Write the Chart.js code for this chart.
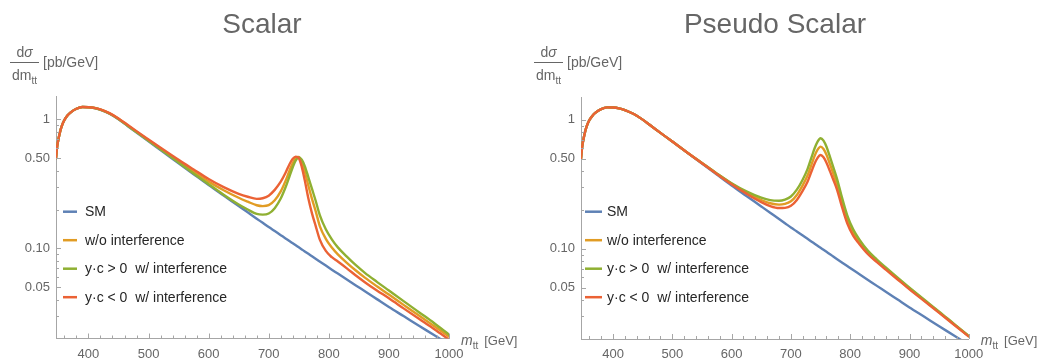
<!DOCTYPE html>
<html><head><meta charset="utf-8">
<script src="https://cdn.jsdelivr.net/npm/chart.js@4"></script>
<style>
html,body{margin:0;padding:0;background:#fff;}
#wrap{position:relative;width:1046px;height:358px;overflow:hidden;}
.panel{position:absolute;top:0;width:523px;height:358px;}
</style></head><body>
<div id="wrap">
<div class="panel" style="left:0"><canvas id="c1" width="523" height="358"></canvas></div>
<div class="panel" style="left:523px"><canvas id="c2" width="523" height="358"></canvas></div>
</div>
<script>
// ---------- data ----------
const massGeV = [346,348,350,353,356,360,365,370,380,390,400,410,420,435,450,465,480,500,525,550,575,600,625,650,665,680,690,700,710,720,728,735,740,745,750,755,760,766,772,778,785,795,805,815,830,845,860,880,900,925,950,975,1000];

const smXsec = [0.50,0.62,0.70,0.81,0.90,0.99,1.07,1.13,1.21,1.247,
  1.243,1.224,1.188,1.107,1.002,0.890,0.791,0.677,0.556,0.4575,
  0.376,0.3093,0.2565,0.2128,0.1902,0.1699,0.1577,0.1463,0.1361,0.1266,
  0.1195,0.1135,0.1095,0.1056,0.1018,0.0982,0.0947,0.0907,0.0868,0.0831,
  0.0790,0.0735,0.0684,0.0638,0.0574,0.0516,0.0465,0.0404,0.0351,0.0297,
  0.0251,0.0213,0.0180];

// Scalar panel
const scalarNoInt = [0.50,0.62,0.70,0.81,0.90,0.99,1.07,1.13,1.21,1.247,
  1.243,1.226,1.192,1.113,1.010,0.899,0.801,0.688,0.568,0.4705,
  0.392,0.3293,0.2825,0.2468,0.2302,0.2159,0.2127,0.2163,0.2361,0.2766,
  0.3335,0.4055,0.4595,0.5026,0.5118,0.4682,0.3947,0.3057,0.2418,0.1951,
  0.149,0.1185,0.1014,0.0898,0.0773,0.0673,0.0593,0.0508,0.0438,0.0363,
  0.0301,0.0250,0.0207];
const scalarPos = [0.50,0.62,0.70,0.81,0.90,0.99,1.07,1.13,1.21,1.247,
  1.243,1.226,1.192,1.112,1.008,0.896,0.798,0.684,0.563,0.4635,
  0.381,0.3143,0.2605,0.2188,0.2002,0.1849,0.1827,0.1863,0.2051,0.2436,
  0.2975,0.3675,0.4255,0.4806,0.5068,0.4882,0.4347,0.3557,0.2888,0.2351,
  0.181,0.1405,0.1174,0.1018,0.0863,0.0740,0.0646,0.0550,0.0471,0.0388,
  0.0320,0.0264,0.0215];
const scalarNeg = [0.50,0.62,0.70,0.81,0.90,0.99,1.07,1.13,1.21,1.247,
  1.243,1.228,1.196,1.119,1.018,0.908,0.811,0.699,0.581,0.4855,
  0.409,0.3453,0.2985,0.2648,0.2512,0.2419,0.2447,0.2563,0.2841,0.3286,
  0.3855,0.4535,0.4955,0.5146,0.5018,0.4282,0.3367,0.2437,0.1868,0.1501,
  0.117,0.0955,0.0854,0.079,0.0700,0.0616,0.0547,0.0472,0.0410,0.0341,
  0.0284,0.0237,0.0196];

// Pseudo scalar panel
const pseudoNoInt = [0.50,0.62,0.70,0.81,0.90,0.99,1.07,1.13,1.21,1.247,
  1.243,1.224,1.188,1.107,1.002,0.890,0.791,0.678,0.558,0.4615,
  0.382,0.3193,0.2725,0.2388,0.2252,0.2199,0.2227,0.2333,0.2611,0.3116,
  0.3695,0.4535,0.5245,0.5856,0.6188,0.5932,0.5347,0.4507,0.3768,0.3131,
  0.239,0.1685,0.1334,0.1138,0.0934,0.0806,0.0702,0.0587,0.0492,0.0398,
  0.0322,0.0260,0.0210];
const pseudoPos = [0.50,0.62,0.70,0.81,0.90,0.99,1.07,1.13,1.21,1.247,
  1.243,1.224,1.188,1.107,1.002,0.890,0.791,0.678,0.558,0.4625,
  0.384,0.3223,0.2785,0.2488,0.2382,0.2359,0.2407,0.2543,0.2871,0.3446,
  0.4145,0.5155,0.6015,0.6776,0.7188,0.6882,0.6167,0.5127,0.4218,0.3451,
  0.261,0.1815,0.1414,0.1188,0.0964,0.0826,0.0717,0.0597,0.0500,0.0403,
  0.0326,0.0262,0.0211];
const pseudoNeg = [0.50,0.62,0.70,0.81,0.90,0.99,1.07,1.13,1.21,1.247,
  1.243,1.224,1.188,1.107,1.002,0.890,0.791,0.678,0.558,0.4605,
  0.380,0.3163,0.2675,0.2298,0.2142,0.2069,0.2077,0.2153,0.2391,0.2826,
  0.3305,0.4005,0.4585,0.5066,0.5328,0.5112,0.4647,0.3977,0.3378,0.2851,
  0.22,0.1575,0.1264,0.1093,0.0907,0.0788,0.0689,0.0578,0.0485,0.0393,
  0.0319,0.0258,0.0209];

const seriesLabels = ['SM', 'w/o interference', 'y\u00b7c > 0  w/ interference', 'y\u00b7c < 0  w/ interference'];
const seriesColors = ['#5e81b5', '#e19c24', '#8fb032', '#eb6235'];
const panelTitles = ['Scalar', 'Pseudo Scalar'];

const xMajorTicks = [400, 500, 600, 700, 800, 900, 1000];
const xMinorTicks = [360,380,420,440,460,480,520,540,560,580,620,640,660,680,720,740,760,780,820,840,860,880,920,940,960,980];
const yMajorTicks = [0.05, 0.1, 0.5, 1];
const yTickText   = ['0.05', '0.10', '0.50', '1'];
const yMinorTicks = [0.03, 0.04, 0.06, 0.07, 0.08, 0.09, 0.2, 0.3, 0.4, 0.6, 0.7, 0.8, 0.9];

// ---------- drawing ----------
const FONT = '"Liberation Sans", Arial, Helvetica, sans-serif';
const GRAY_AXIS = '#a6a6a6';
const GRAY_TEXT = '#666666';

const decorPlugin = {
  id: 'decor',
  afterDraw(chart, args, o) {
    const ctx = chart.ctx, xs = chart.scales.x, ys = chart.scales.y, a = chart.chartArea;
    ctx.save();
    // inner tick marks
    ctx.strokeStyle = GRAY_AXIS; ctx.lineWidth = 1;
    ctx.beginPath();
    xMajorTicks.forEach(v => { const p = Math.round(xs.getPixelForValue(v)) + 0.5; ctx.moveTo(p, a.bottom); ctx.lineTo(p, a.bottom - 5); });
    xMinorTicks.forEach(v => { const p = Math.round(xs.getPixelForValue(v)) + 0.5; ctx.moveTo(p, a.bottom); ctx.lineTo(p, a.bottom - 3); });
    yMajorTicks.forEach(v => { const p = Math.round(ys.getPixelForValue(v)) + 0.5; ctx.moveTo(a.left, p); ctx.lineTo(a.left + 5, p); });
    yMinorTicks.forEach(v => { const p = Math.round(ys.getPixelForValue(v)) + 0.5; ctx.moveTo(a.left, p); ctx.lineTo(a.left + 3, p); });
    ctx.stroke();

    // title
    ctx.fillStyle = GRAY_TEXT;
    ctx.textAlign = 'center'; ctx.textBaseline = 'alphabetic';
    ctx.font = '28px ' + FONT;
    ctx.fillText(o.title, o.titleX, 33);

    // y label: d sigma / d m_tt [pb/GeV]
    const fx0 = o.fracX, fx1 = o.fracX + 29, fc = (fx0 + fx1) / 2;
    ctx.strokeStyle = GRAY_TEXT; ctx.lineWidth = 1;
    ctx.beginPath(); ctx.moveTo(fx0, 62.5); ctx.lineTo(fx1, 62.5); ctx.stroke();
    ctx.textAlign = 'left';
    ctx.font = '14px ' + FONT;
    const wd = ctx.measureText('d').width;
    ctx.font = 'italic 14px ' + FONT;
    const ws = ctx.measureText('\u03c3').width;
    let sx = fc - (wd + ws) / 2;
    ctx.font = '14px ' + FONT; ctx.fillText('d', sx, 57);
    ctx.font = 'italic 14px ' + FONT; ctx.fillText('\u03c3', sx + wd, 57);
    ctx.font = '14px ' + FONT;
    const wdm = ctx.measureText('dm').width;
    ctx.font = '10px ' + FONT;
    const wtt = ctx.measureText('tt').width;
    sx = fc - (wdm + wtt) / 2;
    ctx.font = '14px ' + FONT; ctx.fillText('dm', sx, 80);
    ctx.font = '10px ' + FONT; ctx.fillText('tt', sx + wdm, 84);
    ctx.font = '14px ' + FONT; ctx.fillText('[pb/GeV]', fx1 + 4, 67);

    // x label: m_tt [GeV]
    let lx = a.right + 12;
    ctx.font = 'italic 14px ' + FONT; ctx.fillText('m', lx, 345); lx += ctx.measureText('m').width;
    ctx.font = '10px ' + FONT; ctx.fillText('tt', lx, 349); lx += ctx.measureText('tt').width + 6;
    ctx.font = '13px ' + FONT; ctx.fillText('[GeV]', lx, 345);

    // legend
    const legY = [211.7, 240.2, 268.7, 297.2];
    ctx.lineWidth = 2.5; ctx.lineCap = 'butt';
    chart.data.datasets.forEach((ds, i) => {
      const y = legY[i];
      ctx.strokeStyle = ds.borderColor;
      ctx.beginPath(); ctx.moveTo(a.left + o.legLine[0], y); ctx.lineTo(a.left + o.legLine[1], y); ctx.stroke();
      ctx.fillStyle = '#262626'; ctx.font = '14px ' + FONT; ctx.textBaseline = 'middle';
      ctx.fillText(ds.label, a.left + o.legText, y + 0.5);
    });
    ctx.restore();
  }
};

function pts(arr) { return massGeV.map((m, i) => ({ x: m, y: arr[i] })); }

function makeChart(id, title, series, geo) {
  const datasets = series.map((arr, i) => ({
    label: seriesLabels[i],
    data: pts(arr),
    borderColor: seriesColors[i],
    backgroundColor: seriesColors[i],
    borderWidth: 2.4,
    pointRadius: 0,
    fill: false,
    cubicInterpolationMode: 'monotone',
    borderJoinStyle: 'round',
    borderCapStyle: 'round',
    order: 4 - i
  }));
  return new Chart(document.getElementById(id), {
    type: 'line',
    data: { datasets },
    plugins: [decorPlugin],
    options: {
      responsive: false, animation: false, devicePixelRatio: 1,
      layout: { padding: { top: geo.top, right: 523 - geo.right, left: 0, bottom: 0 } },
      plugins: {
        legend: { display: false }, title: { display: false }, tooltip: { enabled: false },
        decor: { title, titleX: geo.titleX, fracX: geo.fracX, legLine: geo.legLine, legText: geo.legText }
      },
      scales: {
        x: {
          type: 'linear', min: 346, max: 1000,
          grid: { display: false, drawTicks: false },
          border: { display: true, color: GRAY_AXIS, width: 1 },
          afterBuildTicks: s => { s.ticks = xMajorTicks.map(v => ({ value: v })); },
          afterFit: s => { s.height = 358 - geo.bottom; },
          ticks: { autoSkip: false, maxRotation: 0, padding: 8, color: GRAY_TEXT, font: { family: FONT, size: 13 }, callback: v => String(v) }
        },
        y: {
          type: 'logarithmic', min: 0.02, max: 1.5,
          grid: { display: false, drawTicks: false },
          border: { display: true, color: GRAY_AXIS, width: 1 },
          afterBuildTicks: s => { s.ticks = yMajorTicks.map(v => ({ value: v })); },
          afterFit: s => { s.width = geo.left; },
          ticks: { autoSkip: false, padding: 6, color: GRAY_TEXT, font: { family: FONT, size: 13 },
            callback: v => { const k = yMajorTicks.findIndex(t => Math.abs(t - v) < 1e-9); return k >= 0 ? yTickText[k] : ''; } }
        }
      }
    }
  });
}

makeChart('c1', panelTitles[0], [smXsec, scalarNoInt, scalarPos, scalarNeg],
  { left: 56, right: 449, top: 96.7, bottom: 338.5, titleX: 262, fracX: 10, legLine: [7, 21], legText: 29 });
makeChart('c2', panelTitles[1], [smXsec, pseudoNoInt, pseudoPos, pseudoNeg],
  { left: 58, right: 445.8, top: 97, bottom: 339, titleX: 252, fracX: 11, legLine: [4, 21], legText: 26 });
</script>
</body></html>
